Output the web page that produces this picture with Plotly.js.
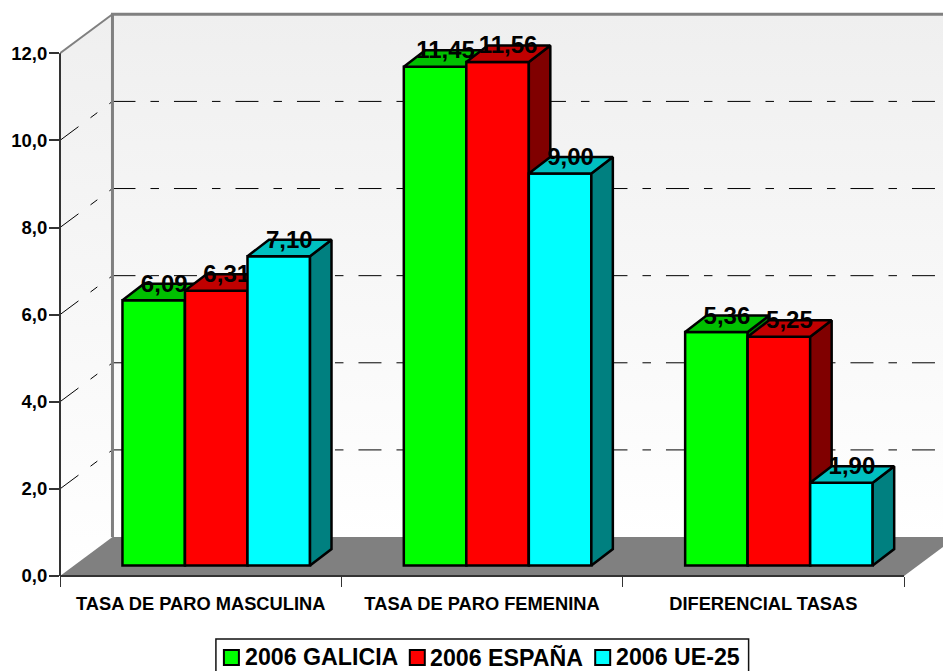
<!DOCTYPE html>
<html>
<head>
<meta charset="utf-8">
<script src="https://cdn.plot.ly/plotly-3.0.1.min.js"></script>
<style>html,body{margin:0;padding:0;background:#fff;overflow:hidden}#c{width:943px;height:671px}</style>
</head>
<body>
<div id="c"></div>
<script>
// ---- data ----
const categories = ['TASA DE PARO MASCULINA', 'TASA DE PARO FEMENINA', 'DIFERENCIAL TASAS'];
const galicia = [6.09, 11.45, 5.36];
const espana = [6.31, 11.56, 5.25];
const ue25 = [7.10, 9.00, 1.90];
const seriesNames = ['2006 GALICIA', '2006 ESPAÑA', '2006 UE-25'];
const yTicks = [0, 2, 4, 6, 8, 10, 12];
const gridValues = [2, 4, 6, 8, 10];

// ---- geometry of the fake perspective (pixels -> axis units) ----
const W = 943, H = 671, L = 59.5, B = 576.5;
const PXC = 281.5, PXV = 43.6;
const xMax = (W - L) / PXC, yMax = B / PXV;
const wallDx = 52.5 / PXC, wallDy = 39 / PXV;
const barW = 62.55 / PXC, barStart = 62.5 / PXC, barBase = 10.5 / PXV;
const sideDx = 21.5 / PXC, sideDy = 16.5 / PXV;
const labDx = 10.5 / PXC, labDy = 14.5 / PXV;
const FONT = '"Liberation Sans", Arial, sans-serif';
const colors = [
  {front: '#00ff00', top: '#00c000', side: '#008000'},
  {front: '#ff0000', top: '#c00000', side: '#800000'},
  {front: '#00ffff', top: '#00c0c0', side: '#008080'}
];
const allSeries = [galicia, espana, ue25];
const traces = [];
const wallScale = [[0, '#ffffff'], [1, '#efefef']];
const topV = 12 + wallDy;
const paperX = px => (px - L) / (W - L);
const paperY = py => (B - py) / B;

// walls
traces.push({type: 'scatter', mode: 'none', x: [0, 0, wallDx, wallDx, 0], y: [0, 12, topV, wallDy, 0],
  fill: 'toself', fillgradient: {type: 'vertical', colorscale: wallScale}, showlegend: false, hoverinfo: 'skip'});
traces.push({type: 'scatter', mode: 'none', x: [wallDx, wallDx, xMax, xMax, wallDx], y: [wallDy, topV, topV, wallDy, wallDy],
  fill: 'toself', fillgradient: {type: 'vertical', colorscale: wallScale}, showlegend: false, hoverinfo: 'skip'});
// floor
traces.push({type: 'scatter', mode: 'lines', x: [0, wallDx, 3 + wallDx, 3, 0], y: [0, wallDy, wallDy, 0, 0],
  fill: 'toself', fillcolor: '#808080', line: {width: 0, color: '#808080'}, showlegend: false, hoverinfo: 'skip'});
// gridlines
const gx = [], gy = [];
gridValues.forEach(v => {
  gx.push(0, wallDx, null, wallDx, xMax, null);
  gy.push(v, v + wallDy, null, v + wallDy, v + wallDy, null);
});
traces.push({type: 'scatter', mode: 'lines', x: gx, y: gy, connectgaps: false,
  line: {color: '#000000', width: 1, dash: '23px,15px,8.5px,15px'}, showlegend: false, hoverinfo: 'skip'});
// grey wall frame
traces.push({type: 'scatter', mode: 'lines', x: [wallDx, wallDx, xMax], y: [wallDy, topV, topV],
  line: {color: '#808080', width: 3}, showlegend: false, hoverinfo: 'skip'});
traces.push({type: 'scatter', mode: 'lines', x: [0, wallDx], y: [12, topV],
  line: {color: '#808080', width: 2}, showlegend: false, hoverinfo: 'skip'});

// one overlaid subplot per series so the painting order is series by series
allSeries.forEach((vals, s) => {
  const xa = 'x' + (s + 2), ya = 'y' + (s + 2);
  const centers = vals.map((v, c) => c + barStart + s * barW + barW / 2);
  traces.push({type: 'bar', name: seriesNames[s], xaxis: xa, yaxis: ya, x: centers, y: vals,
    base: vals.map(() => barBase), width: vals.map(() => barW), showlegend: false,
    marker: {color: colors[s].front, line: {color: '#000000', width: 2.5}}, hoverinfo: 'skip'});
  const tx = [], ty = [], sx = [], sy = [];
  vals.forEach((v, c) => {
    const l = centers[c] - barW / 2, r = centers[c] + barW / 2, t = barBase + v;
    tx.push(l, l + sideDx, r + sideDx, r, l, null);
    ty.push(t, t + sideDy, t + sideDy, t, t, null);
    sx.push(r, r + sideDx, r + sideDx, r, r, null);
    sy.push(barBase, barBase + sideDy, t + sideDy, t, barBase, null);
  });
  traces.push({type: 'scatter', mode: 'lines', xaxis: xa, yaxis: ya, x: sx, y: sy, fill: 'toself',
    fillcolor: colors[s].side, line: {color: '#000000', width: 2.5}, showlegend: false, hoverinfo: 'skip'});
  traces.push({type: 'scatter', mode: 'lines', xaxis: xa, yaxis: ya, x: tx, y: ty, fill: 'toself',
    fillcolor: colors[s].top, line: {color: '#000000', width: 2.5}, showlegend: false, hoverinfo: 'skip'});
  traces.push({type: 'scatter', mode: 'text', xaxis: xa, yaxis: ya, x: centers.map(c => c + labDx),
    y: vals.map(v => barBase + v + labDy), text: vals.map(v => v.toFixed(2).replace('.', ',')),
    textposition: 'middle center', cliponaxis: false,
    textfont: {family: FONT, size: 24, color: '#000000', weight: 'bold'}, showlegend: false, hoverinfo: 'skip'});
});

// legend box, clipped by the bottom of the page as in the reference
const legendSwatchPx = [223.5, 409.5, 595];
const legendTextPx = [245, 429.5, 615.5];
const legendShapes = [{type: 'rect', layer: 'above', xref: 'paper', yref: 'paper',
  x0: paperX(215.5), x1: paperX(748.5), y0: paperY(639.5), y1: paperY(690),
  fillcolor: '#ffffff', line: {color: '#111111', width: 1.5}}];
const legendAnn = [];
seriesNames.forEach((name, s) => {
  legendShapes.push({type: 'rect', layer: 'above', xref: 'paper', yref: 'paper',
    x0: paperX(legendSwatchPx[s]), x1: paperX(legendSwatchPx[s] + 15), y0: paperY(650.5), y1: paperY(665.5),
    fillcolor: colors[s].front, line: {color: '#000000', width: 2}});
  legendAnn.push({xref: 'paper', yref: 'paper', x: paperX(legendTextPx[s]), y: paperY(658), xanchor: 'left', yanchor: 'middle',
    text: name, showarrow: false, borderpad: 0, borderwidth: 0,
    font: {family: FONT, size: 23.2, color: '#000000', weight: 'bold'}});
});

const overlayX = {overlaying: 'x', range: [0, xMax], visible: false, fixedrange: true};
const overlayY = {overlaying: 'y', range: [0, yMax], visible: false, fixedrange: true};
const layout = {
  width: W, height: H, paper_bgcolor: '#ffffff', plot_bgcolor: 'rgba(0,0,0,0)',
  margin: {l: L, r: 0, t: 0, b: H - B, autoexpand: false},
  separators: ',.', showlegend: false, hovermode: false,
  xaxis: {range: [0, xMax], showgrid: false, zeroline: false, showline: false, fixedrange: true,
    tickmode: 'array', tickvals: [0.5, 1.5, 2.5], ticktext: categories, ticks: '', ticklabelstandoff: 15,
    tickfont: {family: FONT, size: 18.3, color: '#000000', weight: 'bold'},
    minor: {tickmode: 'array', tickvals: [0, 1, 2, 3], ticks: 'outside', ticklen: 10, tickwidth: 1, tickcolor: '#333333', showgrid: false}},
  yaxis: {range: [0, yMax], showgrid: false, zeroline: false, showline: false, fixedrange: true,
    tickmode: 'array', tickvals: yTicks, tickformat: '.1f', ticks: 'outside', ticklen: 10, tickwidth: 2, tickcolor: '#333333',
    ticklabelstandoff: -2,
    tickfont: {family: FONT, size: 18.5, color: '#000000', weight: 'bold'}},
  xaxis2: overlayX, xaxis3: overlayX, xaxis4: overlayX,
  yaxis2: overlayY, yaxis3: overlayY, yaxis4: overlayY,
  shapes: [
    {type: 'line', layer: 'above', xref: 'paper', yref: 'y', x0: 0, x1: 0, y0: 0, y1: 12, line: {color: '#333333', width: 2}},
    {type: 'line', layer: 'above', xref: 'x', yref: 'paper', x0: 0, x1: 3, y0: 0, y1: 0, line: {color: '#333333', width: 2}}
  ].concat(legendShapes),
  annotations: legendAnn
};
Plotly.newPlot('c', traces, layout, {displayModeBar: false, staticPlot: true});
</script>
</body>
</html>
